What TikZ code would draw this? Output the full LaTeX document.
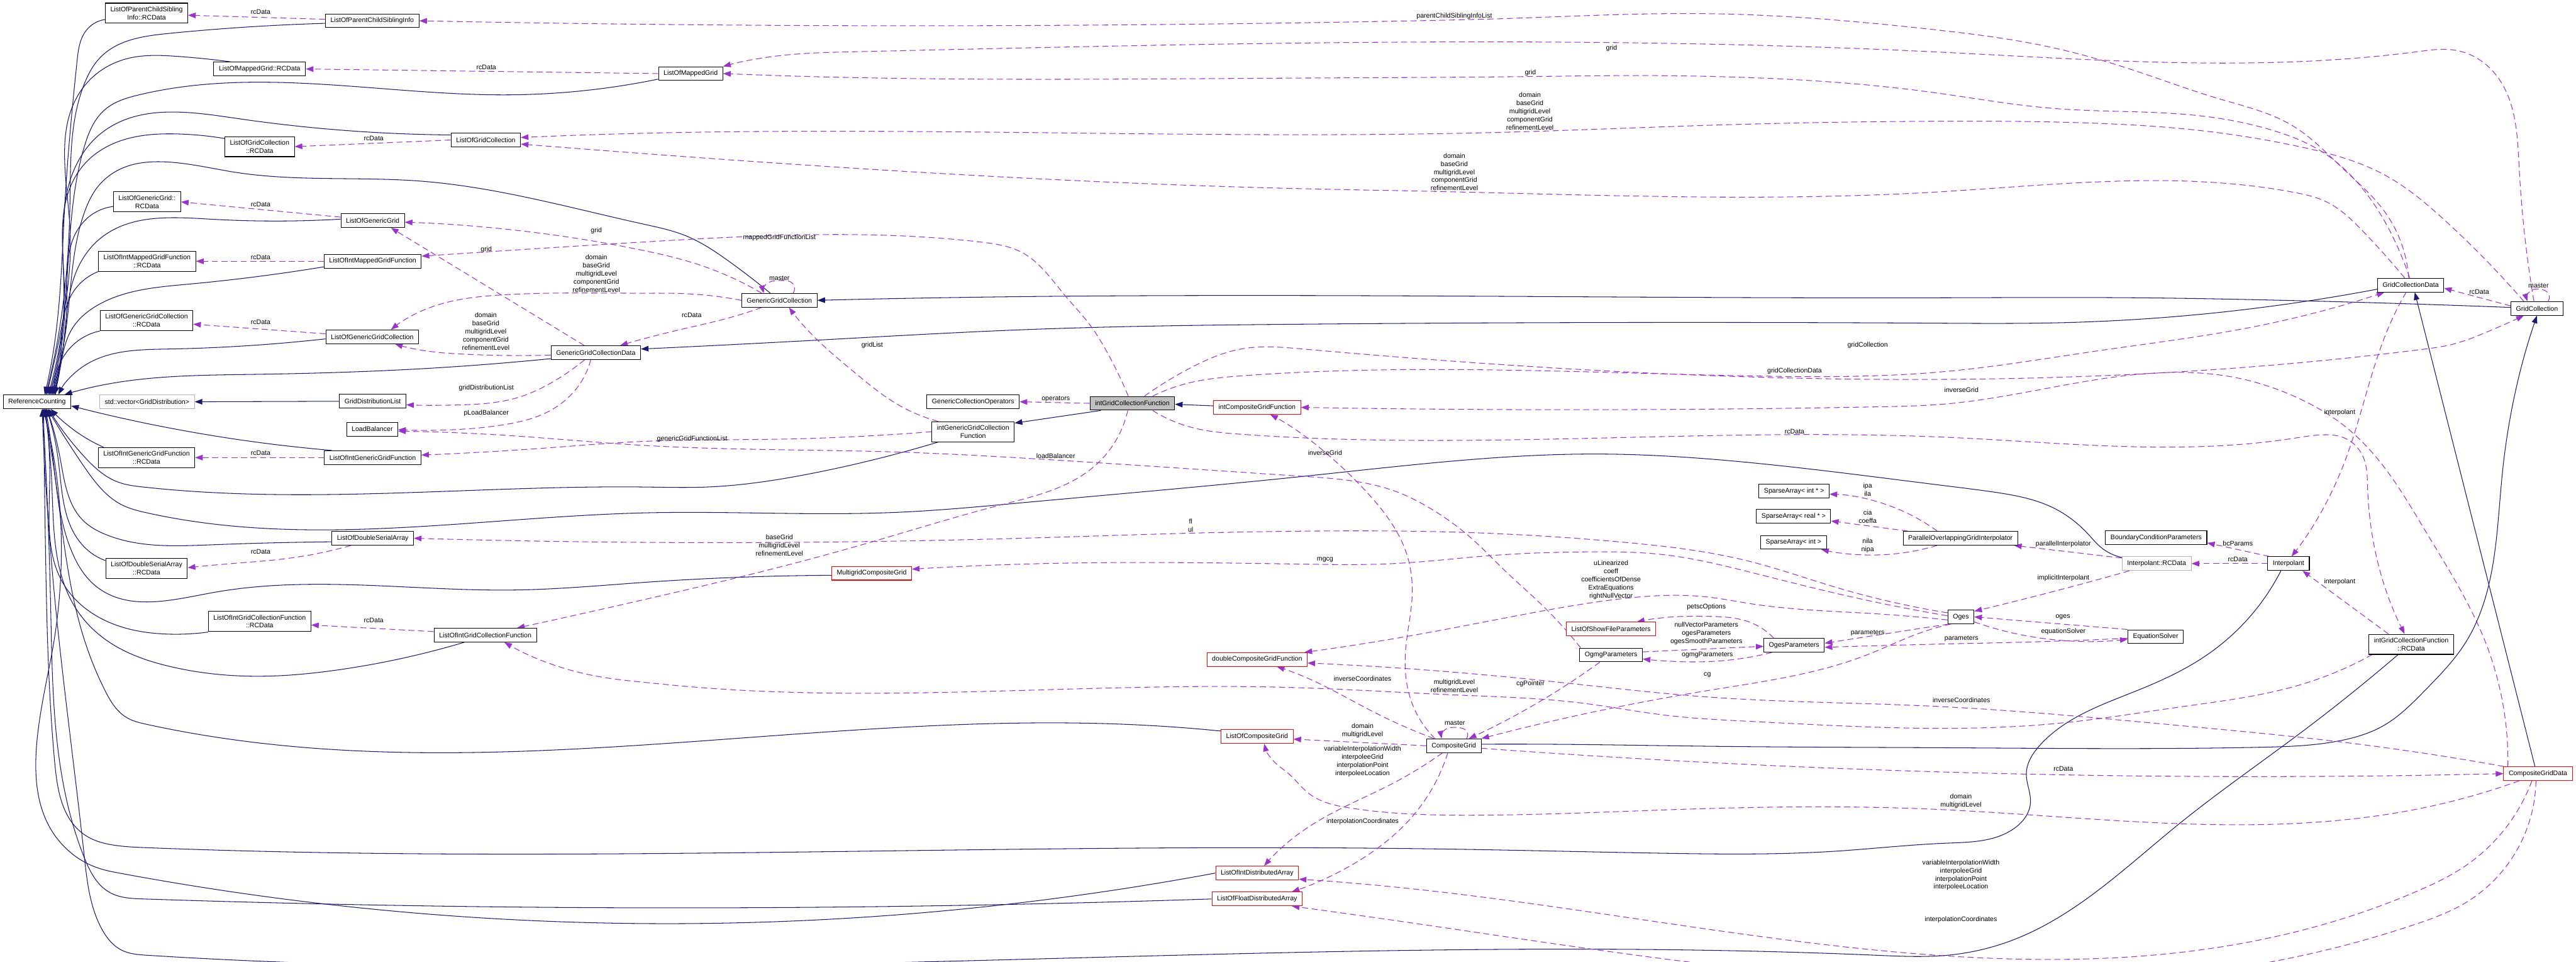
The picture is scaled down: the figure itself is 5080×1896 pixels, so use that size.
\documentclass[tikz,border=0pt]{standalone}
\usepackage{fontspec}
\setmainfont{Liberation Sans}
\usetikzlibrary{arrows.meta,calc,hobby}
\pgfdeclarelayer{bg}
\pgfsetlayers{bg,main}
\definecolor{edgep}{HTML}{9A32CD}
\definecolor{edgen}{HTML}{191970}
\definecolor{focusgray}{HTML}{BFBFBF}
\newcommand{\dedge}[1]{\draw[dep,use Hobby shortcut] #1;}
\newcommand{\iedge}[1]{\draw[inh,use Hobby shortcut] #1;}
\begin{document}
\begin{tikzpicture}[x=1bp,y=-1bp,
  cls/.style={draw=black, line width=1.3bp, fill=white, font=\fontsize{13.2}{16}\selectfont, inner xsep=10bp, inner ysep=7bp, minimum height=27bp, align=center},
  redcls/.style={cls, draw=red},
  graycls/.style={cls, draw=black!30},
  focus/.style={cls, fill=focusgray},
  lbl/.style={font=\fontsize{13.2}{16}\selectfont, inner sep=0pt, align=center},
  dep/.style={draw=edgep, line width=1.3bp, dash pattern=on 12bp off 7bp, -{Triangle[length=15bp,width=11bp]}},
  inh/.style={draw=edgen, line width=1.3bp, -{Triangle[length=15bp,width=11bp]}}]
\useasboundingbox (0,0) rectangle (5080,1896);
\begin{pgfonlayer}{bg}
\fill[white] (0,0) rectangle (5080,1896);
\end{pgfonlayer}
% ---------------- nodes
\node[cls] (lpcsirc) at (289,26) {ListOfParentChildSibling\\Info::RCData};
\node[cls] (lpcsi) at (734,41) {ListOfParentChildSiblingInfo};
\node[cls] (lmgrc) at (512,136) {ListOfMappedGrid::RCData};
\node[cls] (lmg) at (1362,145) {ListOfMappedGrid};
\node[cls] (lgcrc) at (512,289) {ListOfGridCollection\\::RCData};
\node[cls] (lgc) at (958,276) {ListOfGridCollection};
\node[cls] (lggrc) at (290,398) {ListOfGenericGrid::\\RCData};
\node[cls] (lgg) at (735,435) {ListOfGenericGrid};
\node[cls] (limgfrc) at (290,515) {ListOfIntMappedGridFunction\\::RCData};
\node[cls] (limgf) at (735,515) {ListOfIntMappedGridFunction};
\node[cls] (lggcrc) at (289,632) {ListOfGenericGridCollection\\::RCData};
\node[cls] (lggc) at (734,664) {ListOfGenericGridCollection};
\node[cls] (ggcd) at (1175,695) {GenericGridCollectionData};
\node[cls] (ggc) at (1537,592) {GenericGridCollection};
\node[cls] (rc) at (73,792) {ReferenceCounting};
\node[graycls] (stdvec) at (290,792) {std::vector<GridDistribution>};
\node[cls] (gdl) at (735,791) {GridDistributionList};
\node[cls] (lb) at (734,846) {LoadBalancer};
\node[cls] (liggfrc) at (289,902) {ListOfIntGenericGridFunction\\::RCData};
\node[cls] (liggf) at (735,902) {ListOfIntGenericGridFunction};
\node[cls] (ldsa) at (735,1061) {ListOfDoubleSerialArray};
\node[cls] (ldsarc) at (289,1120) {ListOfDoubleSerialArray\\::RCData};
\node[cls] (ligcfrc) at (512,1225) {ListOfIntGridCollectionFunction\\::RCData};
\node[cls] (ligcf) at (957,1252) {ListOfIntGridCollectionFunction};
\node[cls] (gco) at (1919,792) {GenericCollectionOperators};
\node[focus] (igcf) at (2233,795) {intGridCollectionFunction};
\node[redcls] (icgf) at (2479,803) {intCompositeGridFunction};
\node[cls] (iggcf) at (1919,851) {intGenericGridCollection\\Function};
\node[redcls] (mcg) at (1719,1130) {MultigridCompositeGrid};
\node[cls] (saip) at (3538,968) {SparseArray< int * >};
\node[cls] (sarp) at (3537,1018) {SparseArray< real * >};
\node[cls] (sai) at (3537,1069) {SparseArray< int >};
\node[cls] (pogi) at (3866,1061) {ParallelOverlappingGridInterpolator};
\node[redcls] (lsfp) at (3177,1240) {ListOfShowFileParameters};
\node[cls] (ogesp) at (3538,1272) {OgesParameters};
\node[cls] (ogmgp) at (3177,1291) {OgmgParameters};
\node[cls] (bcp) at (4252,1060) {BoundaryConditionParameters};
\node[graycls] (irc) at (4253,1111) {Interpolant::RCData};
\node[cls] (interp) at (4513,1111) {Interpolant};
\node[cls] (oges) at (3867,1216) {Oges};
\node[cls] (eqs) at (4251,1255) {EquationSolver};
\node[cls] (igcfrc) at (4755,1270) {intGridCollectionFunction\\::RCData};
\node[cls] (gcd) at (4754,562) {GridCollectionData};
\node[cls] (gc) at (5003,608) {GridCollection};
\node[redcls] (cgd) at (5005,1525) {CompositeGridData};
\node[redcls] (dcgf) at (2479,1300) {doubleCompositeGridFunction};
\node[redcls] (lcg) at (2479,1452) {ListOfCompositeGrid};
\node[redcls] (lida) at (2479,1721) {ListOfIntDistributedArray};
\node[redcls] (lfda) at (2479,1772) {ListOfFloatDistributedArray};
\node[cls] (cg) at (2867,1470) {CompositeGrid};
% ---------------- edges
\begin{pgfonlayer}{bg}
% inheritance to ReferenceCounting (top)
\iedge{($(lpcsirc.south west)+(0,-8)$) .. (170,60) .. (152,120) .. (128,400) .. (104,700) .. ($(rc.north)+(15,0)$)}
\iedge{($(lpcsi.west)+(0,5)$) .. (332,66) .. (199,112) .. (166,166) .. (138,400) .. (108,700) .. ($(rc.north)+(17,0)$)}
\iedge{($(lmgrc.north west)+(34,0)$) .. (348,111) .. (249,116) .. (166,170) .. (138,450) .. (110,700) .. ($(rc.north)+(19,0)$)}
\iedge{($(lmg.west)+(0,11)$) .. (995,187) .. (274,187) .. (207,216) .. (166,290) .. (128,600) .. (112,710) .. ($(rc.north)+(22,0)$)}
\iedge{($(lgc.west)+(0,-10)$) .. (464,233) .. (199,263) .. (158,311) .. (126,600) .. (114,710) .. ($(rc.north)+(24,0)$)}
\iedge{($(lgcrc.west)+(0,-16)$) .. (348,264) .. (249,274) .. (166,324) .. (128,600) .. (116,710) .. ($(rc.north)+(26,0)$)}
\iedge{($(ggc.north)+(-18,0)$) .. (1436,514) .. (1353,465) .. (1270,442) .. (829,357) .. (448,337) .. (199,361) .. (166,420) .. (130,650) .. (118,715) .. ($(rc.north)+(28,0)$)}
\iedge{($(lggrc.west)+(0,9)$) .. (166,436) .. (132,600) .. (118,720) .. ($(rc.north)+(30,0)$)}
\iedge{($(lgg.west)+(0,-3)$) .. (415,432) .. (199,469) .. (149,539) .. (125,680) .. ($(rc.north)+(32,0)$)}
\iedge{(limgfrc.south west) .. (141,581) .. (120,700) .. ($(rc.north)+(33,0)$)}
\iedge{($(limgf.west)+(0,11)$) .. (373,560) .. (199,598) .. (141,650) .. (118,730) .. ($(rc.north)+(35,0)$)}
\iedge{(lggcrc.south west) .. (133,692) .. ($(rc.north)+(37,0)$)}
\iedge{($(lggc.west)+(0,4)$) .. (332,688) .. (166,721) .. ($(rc.north)+(42,0)$)}
\iedge{($(ggcd.west)+(0,12)$) .. (829,727) .. (498,738) .. (166,767) .. ($(rc.north east)+(-13,0)$)}
\iedge{(gdl.west) -- (stdvec.east)}
% inheritance to ReferenceCounting (bottom)
\iedge{($(liggf.north west)+(15,0)$) .. (415,858) .. ($(rc.east)+(0,8)$)}
\iedge{($(liggfrc.north west)+(11,0)$) .. (149,850) .. ($(rc.south)+(27,0)$)}
\iedge{($(iggcf.south)+(-69,0)$) .. (1602,933) .. (1394,960) .. (1270,960) .. (282,960) .. (232,950) .. (166,900) .. ($(rc.south)+(23,0)$)}
\iedge{($(irc.north west)+(0,2)$) .. (4142,1078) .. (4118,1053) .. (4053,1003) .. (3932,970) .. (3840,958) .. (3452,912) .. (3145,895) .. (2789,916) .. (2570,939) .. (2016,991) .. (1767,1010) .. (1270,1011) .. (290,1011) .. (240,995) .. (166,920) .. ($(rc.south)+(21,0)$)}
\iedge{($(ldsa.west)+(0,7)$) .. (415,1074) .. (207,1053) .. (166,1028) .. (118,900) .. ($(rc.south)+(19,0)$)}
\iedge{($(ldsarc.west)+(0,-15)$) .. (166,1078) .. (114,900) .. ($(rc.south)+(18,0)$)}
\iedge{($(mcg.west)+(0,4)$) .. (1270,1148) .. (1016,1163) .. (415,1169) .. (191,1157) .. (141,1086) .. (104,900) .. ($(rc.south)+(17,0)$)}
\iedge{($(ligcfrc.west)+(0,21)$) .. (332,1250) .. (207,1223) .. (124,1149) .. (98,950) .. ($(rc.south)+(16,0)$)}
\iedge{($(ligcf.south west)+(60,0)$) .. (663,1321) .. (514,1333) .. (332,1313) .. (207,1260) .. (150,1200) .. (102,950) .. ($(rc.south)+(15,0)$)}
\iedge{($(lcg.west)+(0,-11)$) .. (2224,1428) .. (290,1428) .. (249,1414) .. (207,1361) .. (166,1260) .. (110,950) .. ($(rc.south)+(14,0)$)}
\iedge{($(interp.south)+(-15,0)$) .. (4390,1262) .. (4337,1301) .. (4215,1361) .. (4094,1414) .. (4021,1471) .. (3996,1524) .. (4004,1584) .. (3972,1633) .. (3840,1662) .. (3618,1678) .. (3286,1682) .. (2872,1674) .. (2540,1671) .. (290,1671) .. (232,1667) .. (166,1645) .. (108,1504) .. (90,1100) .. ($(rc.south)+(13,0)$)}
\iedge{(lida.west) .. (235,1721) .. (203,1714) .. (141,1682) .. (100,1300) .. ($(rc.south)+(12,0)$)}
\iedge{(lfda.west) .. (282,1772) .. (216,1759) .. (166,1690) .. (100,1200) .. ($(rc.south)+(11,0)$)}
\iedge{($(igcfrc.south)+(-26,0)$) .. (4539,1443) .. (4296,1625) .. (4093,1787) .. (3972,1852) .. (3840,1883) .. (3700,1883) .. (290,1883) .. (240,1873) .. (199,1828) .. (166,1686) .. (110,1200) .. ($(rc.south)+(10,0)$)}
% other inheritance
\iedge{($(gc.west)+(0,-2)$) .. (4458,591) .. (4215,587) .. (3810,587) .. (1850,587) .. (ggc.east)}
\iedge{($(gcd.west)+(0,8)$) .. (4069,636) .. (3810,637) .. (2570,639) .. (2016,650) .. (1602,671) .. ($(ggcd.east)+(0,-7)$)}
\iedge{($(igcf.south west)+(22,0)$) -- ($(iggcf.east)+(0,-17)$)}
\iedge{($(icgf.west)+(0,-3)$) -- ($(igcf.east)+(0,2)$)}
\iedge{($(cg.east)+(0,-3)$) .. (3038,1467) .. (3369,1471) .. (3840,1474) .. (4458,1473) .. (4620,1459) .. (4701,1430) .. (4782,1361) .. (4860,1270) .. (4935,930) .. (gc.south)}
\iedge{($(cgd.north)+(-6,0)$) -- ($(gcd.south)+(8,0)$)}
% usage (dashed)
\dedge{($(lpcsi.west)+(0,-3)$) -- ($(lpcsirc.east)+(0,4)$)}
\dedge{($(gcd.north)+(-4,0)$) .. (4701,415) .. (4620,332) .. (4523,249) .. (4377,195) .. (4215,141) .. (4053,95) .. (3810,58) .. (3369,27) .. (2955,37) .. (2789,41) .. (lpcsi.east)}
\dedge{($(gc.north)+(-6,0)$) .. (4968,332) .. (4920,145) .. (4847,100) .. (4766,102) .. (3810,102) .. (1685,102) .. (1519,112) .. (lmg.north east)}
\dedge{($(gcd.north)+(-2,0)$) .. (4733,498) .. (4660,373) .. (4579,299) .. (4482,257) .. (4336,228) .. (4053,214) .. (3810,182) .. (3452,153) .. (3245,149) .. (3004,151) .. (2540,154) .. (1602,151) .. (lmg.east)}
\dedge{($(gc.north)+(-26,0)$) .. (4822,435) .. (4701,344) .. (4539,290) .. (4336,257) .. (4134,243) .. (3810,239) .. (3369,247) .. (2955,261) .. (1300,262) .. ($(lgc.east)+(0,-5)$)}
\dedge{($(gcd.north)+(-12,0)$) .. (4660,456) .. (4588,398) .. (4523,379) .. (3810,379) .. (2814,377) .. (2570,372) .. (1300,305) .. ($(lgc.east)+(0,8)$)}
\dedge{(lmg.west) -- (lmgrc.east)}
\dedge{(lgc.west) -- (lgcrc.east)}
\dedge{($(lgg.west)+(0,-7)$) -- (lggrc.east)}
\dedge{($(ggc.north)+(-35,0)$) .. (1436,544) .. (1353,514) .. (1270,494) .. (1036,456) .. ($(lgg.east)+(0,3)$)}
\dedge{(limgf.west) -- (limgfrc.east)}
\dedge{($(igcf.north)+(-8,0)$) .. (2182,692) .. (2149,640) .. (2099,581) .. (2016,498) .. (1933,477) .. (1270,477) .. ($(limgf.east)+(0,-10)$)}
\dedge{($(lggc.west)+(0,-6)$) -- ($(lggcrc.east)+(0,7)$)}
\dedge{(ggc.west) .. (1353,579) .. (1270,578) .. (995,581) .. (829,614) .. ($(lggc.north)+(37,0)$)}
\dedge{($(ggcd.west)+(0,5)$) .. (912,698) .. (829,690) .. ($(lggc.south)+(45,0)$)}
\dedge{($(ggcd.north)+(-23,0)$) -- ($(lgg.south)+(36,0)$)}
\dedge{($(ggc.south)+(-35,0)$) .. (1436,627) .. (1336,651) .. ($(ggcd.north)+(48,0)$)}
\dedge{($(iggcf.north)+(-69,0)$) .. (1768,796) .. (1685,734) .. (1593,651) .. ($(ggc.south)+(19,0)$)}
\dedge{($(ggc.north)+(27,0)$) .. (1564,560) .. (1537,553) .. (1511,560) .. ($(ggc.north)+(-31,0)$)}
\dedge{($(ggcd.south)+(-22,0)$) .. (1095,750) .. (1020,784) .. (912,798) .. ($(gdl.east)+(0,7)$)}
\dedge{($(ggcd.south)+(-10,0)$) .. (1136,767) .. (1078,813) .. (995,837) .. (912,846) .. ($(lb.east)+(0,1)$)}
\dedge{($(ogmgp.north)+(-60,0)$) .. (3038,1190) .. (2971,1128) .. (2897,1057) .. (2822,1003) .. (2756,970) .. (2570,939) .. (2099,908) .. (1767,891) .. (1270,878) .. (995,858) .. ($(lb.east)+(0,4)$)}
\dedge{(iggcf.west) .. (1519,866) .. (1270,870) .. (1078,883) .. ($(liggf.east)+(0,-5)$)}
\dedge{(liggf.west) -- (liggfrc.east)}
\dedge{($(ldsa.south)+(-43,0)$) .. (580,1099) .. (456,1111) .. ($(ldsarc.east)+(0,-1)$)}
\dedge{($(oges.west)+(0,-8)$) .. (3618,1157) .. (3452,1107) .. (3203,1069) .. (2872,1049) .. (2570,1047) .. (2348,1051) .. (2016,1061) .. (ldsa.east)}
\dedge{($(oges.west)+(0,-2)$) .. (3618,1169) .. (3452,1128) .. (3286,1094) .. (3120,1088) .. (2955,1094) .. (2747,1111) .. (2570,1112) .. (2016,1112) .. ($(mcg.east)+(0,-8)$)}
\dedge{($(oges.west)+(0,6)$) .. (3701,1210) .. (3452,1190) .. (3369,1177) .. (3200,1180) .. (3038,1205) .. (2800,1250) .. ($(dcgf.north east)+(-6,0)$)}
\dedge{($(ogesp.north)+(-40,0)$) .. (3452,1227) .. (3369,1215) .. (3286,1217) .. ($(lsfp.north)+(51,0)$)}
\dedge{($(ogmgp.east)+(0,-6)$) -- ($(ogesp.west)+(0,2)$)}
\dedge{($(ogesp.south)+(-44,0)$) .. (3411,1301) .. (3286,1303) .. ($(ogmgp.east)+(0,8)$)}
\dedge{($(oges.south west)+(2,0)$) .. (3701,1252) .. ($(ogesp.east)+(0,-4)$)}
\dedge{($(eqs.west)+(0,3)$) .. (4053,1264) .. (3810,1270) .. ($(ogesp.east)+(0,4)$)}
\dedge{($(ogmgp.south)+(-22,0)$) .. (3038,1382) .. ($(cg.north east)+(-25,0)$)}
\dedge{($(oges.south)+(-20,0)$) .. (3780,1250) .. (3684,1290) .. (3369,1361) .. (cg.north east)}
\dedge{($(cg.north)+(25,0)$) .. (2892,1441) .. (2872,1434) .. (2850,1438) .. ($(cg.north)+(-24,0)$)}
\dedge{($(cg.north west)+(15,0)$) .. (2706,1402) .. (2570,1333) .. ($(dcgf.south)+(39,0)$)}
\dedge{(cg.west) -- ($(lcg.east)+(0,5)$)}
\dedge{($(cg.south west)+(32,0)$) .. (2747,1544) .. (2623,1605) .. (2540,1660) .. ($(lida.north)+(14,0)$)}
\dedge{($(cg.south)+(-12,0)$) .. (2789,1605) .. (2664,1706) .. ($(lfda.north east)+(-21,0)$)}
\dedge{($(cg.east)+(0,5)$) .. (3369,1503) .. (3840,1522) .. (cgd.west)}
\dedge{($(cgd.north west)+(9,0)$) .. (4903,1270) .. (4782,1045) .. (4701,920) .. (4620,837) .. (4539,788) .. (4417,746) .. (4296,734) .. (4215,738) .. (3840,796) .. (3701,802) .. (icgf.east)}
\dedge{($(cg.north)+(-37,0)$) .. (2783,1382) .. (2772,1280) .. (2785,1169) .. (2772,1086) .. (2706,982) .. (2623,900) .. (2540,837) .. ($(icgf.south)+(26,0)$)}
\dedge{($(cgd.north west)+(1,0)$) .. (4620,1463) .. (4296,1430) .. (3810,1392) .. (3369,1374) .. (3038,1341) .. (2789,1319) .. ($(dcgf.east)+(0,7)$)}
\dedge{($(igcfrc.south west)+(7,0)$) .. (4539,1349) .. (4296,1394) .. (4077,1424) .. (3452,1422) .. (3286,1410) .. (3120,1386) .. (2872,1370) .. (2540,1355) .. (1353,1353) .. (1270,1345) .. (1177,1333) .. ($(ligcf.south east)+(-64,0)$)}
\dedge{($(cgd.south)+(-37,0)$) .. (4766,1595) .. (3810,1595) .. (3328,1595) .. (2913,1607) .. (2664,1593) .. (2581,1564) .. (2540,1524) .. (2514,1503) .. ($(lcg.south)+(14,0)$)}
\dedge{($(cgd.south)+(-12,0)$) .. (4863,1706) .. (4766,1757) .. (2830,1757) .. ($(lida.east)+(0,12)$)}
\dedge{($(cgd.south)+(-4,0)$) .. (4863,1779) .. (4766,1821) .. (2789,1820) .. ($(lfda.south east)+(-21,0)$)}
\dedge{(igcf.west) -- (gco.east)}
\dedge{($(igcf.north)+(24,0)$) .. (2348,725) .. (2447,688) .. (2570,688) .. (4782,688) .. (4831,680) .. (4903,655) .. ($(gc.south west)+(26,0)$)}
\dedge{($(igcf.north)+(40,0)$) .. (2348,754) .. (2447,741) .. (3452,741) .. (3840,732) .. (4134,692) .. (4440,645) .. ($(gcd.south west)+(14,0)$)}
\dedge{($(igcf.south)+(40,0)$) .. (2348,842) .. (2447,856) .. (3840,862) .. (4523,864) .. (4588,857) .. (4620,862) .. (4660,900) .. (4669,962) .. ($(igcfrc.north)+(-13,0)$)}
\dedge{($(igcf.south)+(-9,0)$) .. (2157,920) .. (1975,995) .. (1685,1078) .. (1270,1182) .. ($(ligcf.north east)+(-39,0)$)}
\dedge{($(gc.north)+(22,0)$) .. (5025,578) .. (5009,570) .. (4993,572) .. ($(gc.north)+(-19,0)$)}
\dedge{($(gc.west)+(0,-5)$) -- ($(gcd.east)+(0,6)$)}
\dedge{($(gcd.south)+(-9,0)$) .. (4717,630) .. (4620,920) .. ($(interp.north)+(6,0)$)}
\dedge{($(igcfrc.north west)+(39,0)$) -- ($(interp.south east)+(-14,0)$)}
\dedge{(interp.west) -- (irc.east)}
\dedge{($(interp.north west)+(4,0)$) -- ($(bcp.south east)+(0,-4)$)}
\dedge{($(irc.west)+(0,-11)$) -- ($(pogi.south east)+(-8,0)$)}
\dedge{($(irc.south west)+(15,0)$) .. (4053,1165) .. ($(oges.north east)+(0,3)$)}
\dedge{(eqs.north west) -- (oges.east)}
\dedge{($(oges.east)+(0,10)$) .. (4012,1256) .. ($(eqs.west)+(0,5)$)}
\dedge{($(pogi.north west)+(68,0)$) .. (3742,1003) .. ($(saip.east)+(0,6)$)}
\dedge{($(pogi.north west)+(10,0)$) -- ($(sarp.east)+(0,9)$)}
\dedge{($(pogi.south west)+(68,0)$) .. (3684,1094) .. ($(sai.south east)+(-11,0)$)}
\dedge{($(ligcf.west)+(0,-7)$) -- ($(ligcfrc.east)+(0,7)$)}
\end{pgfonlayer}
% ---------------- labels
\node[lbl] (l1) at (514,24) {rcData};
\node[lbl] (l2) at (2868,32) {parentChildSiblingInfoList};
\node[lbl] (l3) at (959,133) {rcData};
\node[lbl] (l4) at (3178,95) {grid};
\node[lbl] (l5) at (3018,144) {grid};
\node[lbl] (l6) at (3017,219) {domain\\baseGrid\\multigridLevel\\componentGrid\\refinementLevel};
\node[lbl] (l7) at (2868,339) {domain\\baseGrid\\multigridLevel\\componentGrid\\refinementLevel};
\node[lbl] (l8) at (737,273) {rcData};
\node[lbl] (l9) at (514,403) {rcData};
\node[lbl] (l10) at (1176,455) {grid};
\node[lbl] (l11) at (959,492) {grid};
\node[lbl] (l12) at (1537,469) {mappedGridFunctionList};
\node[lbl] (l13) at (514,507) {rcData};
\node[lbl] (l14) at (1176,539) {domain\\baseGrid\\multigridLevel\\componentGrid\\refinementLevel};
\node[lbl] (l15) at (1537,548) {master};
\node[lbl] (l16) at (514,635) {rcData};
\node[lbl] (l17) at (958,653) {domain\\baseGrid\\multigridLevel\\componentGrid\\refinementLevel};
\node[lbl] (l18) at (1364,621) {rcData};
\node[lbl] (l19) at (1720,680) {gridList};
\node[lbl] (l20) at (959,765) {gridDistributionList};
\node[lbl] (l21) at (959,815) {pLoadBalancer};
\node[lbl] (l22) at (2082,787) {operators};
\node[lbl] (l23) at (1365,865) {genericGridFunctionList};
\node[lbl] (l24) at (514,893) {rcData};
\node[lbl] (l25) at (2082,899) {loadBalancer};
\node[lbl] (l26) at (2613,892) {inverseGrid};
\node[lbl] (l27) at (3683,680) {gridCollection};
\node[lbl] (l28) at (3539,732) {gridCollectionData};
\node[lbl] (l29) at (3868,768) {inverseGrid};
\node[lbl] (l30) at (3539,851) {rcData};
\node[lbl] (l31) at (4614,813) {interpolant};
\node[lbl] (l32) at (5006,563) {master};
\node[lbl] (l33) at (4889,575) {rcData};
\node[lbl] (l34) at (2348,1036) {fl\\ul};
\node[lbl] (l35) at (514,1088) {rcData};
\node[lbl] (l36) at (1537,1075) {baseGrid\\multigridLevel\\refinementLevel};
\node[lbl] (l37) at (2613,1104) {mgcg};
\node[lbl] (l38) at (3177,1143) {uLinearized\\coeff\\coefficientsOfDense\\ExtraEquations\\rightNullVector};
\node[lbl] (l39) at (3365,1196) {petscOptions};
\node[lbl] (l40) at (3365,1249) {nullVectorParameters\\ogesParameters\\ogesSmoothParameters};
\node[lbl] (l41) at (3367,1291) {ogmgParameters};
\node[lbl] (l42) at (3683,1248) {parameters};
\node[lbl] (l43) at (3868,1259) {parameters};
\node[lbl] (l44) at (3683,965) {ipa\\ila};
\node[lbl] (l45) at (3683,1019) {cia\\coeffa};
\node[lbl] (l46) at (3683,1076) {nila\\nipa};
\node[lbl] (l47) at (4069,1073) {parallelInterpolator};
\node[lbl] (l48) at (4069,1140) {implicitInterpolant};
\node[lbl] (l49) at (4068,1216) {oges};
\node[lbl] (l50) at (4069,1245) {equationSolver};
\node[lbl] (l51) at (4413,1071) {bcParams};
\node[lbl] (l52) at (4413,1103) {rcData};
\node[lbl] (l53) at (4614,1147) {interpolant};
\node[lbl] (l54) at (737,1223) {rcData};
\node[lbl] (l55) at (2687,1338) {inverseCoordinates};
\node[lbl] (l56) at (2868,1352) {multigridLevel\\refinementLevel};
\node[lbl] (l57) at (3018,1348) {cgPointer};
\node[lbl] (l58) at (3367,1330) {cg};
\node[lbl] (l59) at (2869,1425) {master};
\node[lbl] (l60) at (2687,1440) {domain\\multigridLevel};
\node[lbl] (l61) at (2687,1501) {variableInterpolationWidth\\interpoleeGrid\\interpolationPoint\\interpoleeLocation};
\node[lbl] (l62) at (2687,1619) {interpolationCoordinates};
\node[lbl] (l63) at (3868,1380) {inverseCoordinates};
\node[lbl] (l64) at (4069,1515) {rcData};
\node[lbl] (l65) at (3867,1579) {domain\\multigridLevel};
\node[lbl] (l66) at (3867,1725) {variableInterpolationWidth\\interpoleeGrid\\interpolationPoint\\interpoleeLocation};
\node[lbl] (l67) at (3867,1813) {interpolationCoordinates};
\end{tikzpicture}
\end{document}
